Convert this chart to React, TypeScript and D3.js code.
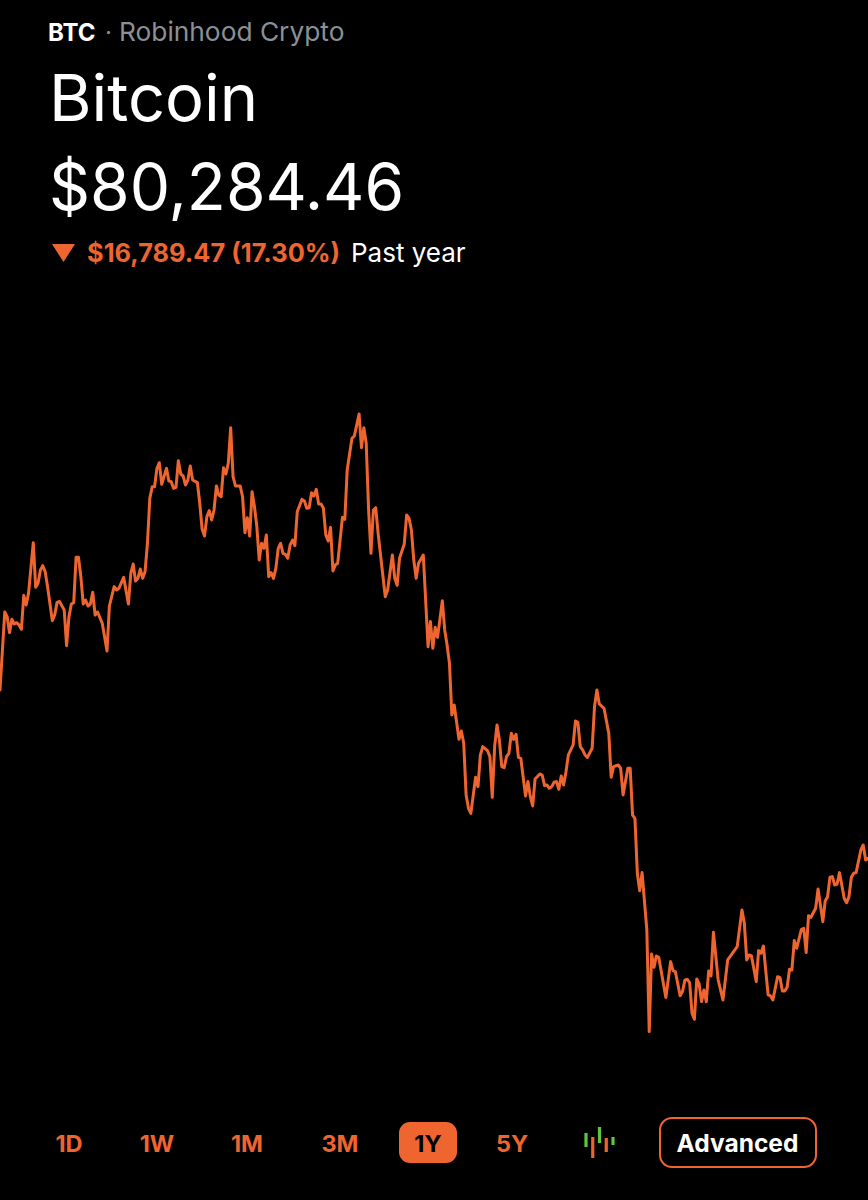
import * as d3 from 'd3'

const WIDTH = 868
const HEIGHT = 1200
const ORANGE = '#ef6530'
const FONT = 'Inter, sans-serif'

// day of the year-long window, only the days where the line turns
const days = [
  0, 2, 3, 4, 5, 6, 7, 8, 9, 10, 11, 12, 14, 15, 16, 17, 18, 19, 20, 22, 23, 24, 25, 27, 28, 29, 30, 31, 32, 33,
  34, 35, 36, 37, 38, 39, 40, 41, 43, 45, 46, 48, 49, 50, 52, 54, 55, 56, 57, 58, 59, 60, 61, 62, 63, 64, 65, 66, 67, 68,
  70, 71, 72, 73, 74, 75, 76, 77, 78, 79, 80, 81, 83, 84, 85, 86, 87, 88, 89, 90, 91, 92, 93, 94, 95, 96, 97, 98, 99, 101,
  102, 103, 104, 105, 106, 107, 108, 109, 110, 111, 112, 113, 114, 115, 116, 117, 118, 119, 120, 121, 122, 123, 124, 125, 127, 128, 129, 130, 131, 132,
  133, 134, 135, 136, 137, 138, 139, 140, 141, 142, 144, 145, 146, 148, 149, 151, 152, 153, 154, 155, 156, 157, 158, 159, 162, 163, 165, 166, 167, 168,
  170, 171, 172, 173, 174, 175, 176, 178, 180, 181, 182, 183, 184, 186, 187, 188, 189, 190, 191, 193, 194, 195, 196, 197, 198, 200, 201, 202, 203, 205,
  206, 207, 208, 209, 210, 211, 212, 213, 214, 215, 216, 217, 218, 219, 221, 222, 223, 224, 225, 227, 228, 229, 230, 231, 232, 233, 234, 235, 236, 237,
  238, 239, 241, 242, 243, 244, 245, 246, 247, 249, 250, 251, 252, 254, 256, 257, 258, 260, 261, 262, 264, 265, 266, 267, 268, 269, 270, 272, 273, 274,
  275, 276, 277, 280, 282, 283, 284, 286, 287, 288, 289, 290, 291, 292, 293, 294, 295, 296, 297, 298, 299, 300, 302, 304, 306, 310, 312, 313, 314, 315,
  316, 318, 319, 320, 321, 323, 324, 325, 327, 328, 329, 330, 331, 332, 333, 334, 335, 337, 338, 339, 340, 341, 343, 344, 346, 347, 348, 349, 350, 351,
  352, 353, 355, 356, 357, 358, 359, 360, 362, 363, 364, 365,
]

// BTC price in thousands of dollars
const prices = [
  97.07, 105.01, 104.53, 102.91, 104.26, 103.79, 103.92, 103.69, 103.25, 106.7, 105.72, 106.91, 112.06, 107.52, 107.93, 109.28, 109.72, 109.11, 107.59, 104.13, 104.7, 105.99, 106.09, 105.21, 101.58, 104.53, 105.82, 105.96, 110.57, 110.57,
  108.6, 105.82, 106.23, 105.62, 105.82, 107.01, 104.7, 105.01, 103.86, 101.04, 105.62, 107.59, 107.25, 107.42, 108.54, 105.82, 108.94, 109.89, 108.16, 108.43, 109.38, 108.43, 109.11, 112.0, 116.57, 117.76, 117.76, 119.63, 120.2, 118.0,
  119.63, 118.34, 118.27, 117.59, 117.69, 120.41, 119.05, 118.85, 117.93, 118.44, 119.86, 118.44, 118.17, 116.07, 113.42, 112.74, 114.71, 115.32, 114.37, 115.39, 117.83, 116.91, 116.74, 119.69, 119.05, 120.14, 123.76, 118.78, 117.83, 117.83,
  116.74, 113.08, 114.61, 112.74, 117.25, 115.73, 113.69, 110.3, 112.0, 111.49, 112.84, 108.6, 109.01, 108.43, 109.45, 111.49, 112.0, 110.98, 110.88, 110.47, 111.83, 112.33, 111.76, 115.22, 116.47, 116.3, 115.56, 115.62, 117.15, 116.81,
  117.49, 116.0, 116.0, 115.56, 112.84, 112.23, 113.62, 109.18, 109.79, 109.96, 114.64, 114.44, 119.46, 122.68, 122.92, 125.16, 121.73, 123.76, 122.17, 115.39, 110.98, 115.39, 115.62, 113.01, 106.57, 107.25, 110.81, 108.43, 107.72, 110.47,
  111.93, 114.88, 114.54, 113.35, 110.3, 108.43, 109.96, 110.81, 101.48, 104.03, 101.31, 103.45, 102.43, 106.16, 103.18, 101.65, 99.79, 94.53, 95.55, 92.05, 92.9, 91.65, 86.39, 85.03, 84.52, 88.19, 87.24, 90.46, 91.31, 90.9,
  90.29, 86.15, 91.31, 93.51, 91.98, 89.27, 89.17, 90.29, 90.63, 92.66, 92.05, 92.56, 90.22, 90.12, 86.29, 87.75, 86.22, 85.27, 88.02, 88.53, 88.42, 87.34, 87.41, 87.07, 87.24, 87.68, 87.75, 86.97, 88.32, 87.41,
  88.76, 90.46, 91.48, 93.92, 93.78, 91.31, 90.97, 90.46, 90.22, 91.14, 95.38, 97.07, 95.65, 95.21, 92.66, 88.19, 89.27, 89.44, 89.1, 86.39, 89.1, 89.1, 84.35, 84.01, 78.42, 76.65, 78.49, 72.65, 62.31, 70.21,
  68.85, 70.01, 69.87, 65.77, 69.43, 68.51, 68.41, 65.97, 66.38, 67.56, 67.63, 67.29, 64.17, 63.56, 67.67, 67.16, 65.36, 66.55, 65.36, 68.48, 67.97, 72.41, 67.56, 65.53, 69.6, 70.96, 74.69, 73.33, 69.6, 70.11,
  70.01, 67.4, 70.55, 70.28, 71.02, 66.04, 65.94, 65.53, 67.9, 67.8, 66.45, 66.45, 66.82, 68.65, 68.58, 71.57, 70.79, 72.72, 72.82, 70.35, 74.11, 73.94, 74.86, 76.82, 73.5, 75.6, 76.04, 78.01, 78.08, 77.23,
  77.33, 78.49, 75.87, 75.43, 76.04, 78.01, 78.42, 78.49, 80.79, 81.3, 79.77, 79.94,
]

const ranges = ['1D', '1W', '1M', '3M', '1Y', '5Y']
const rangeCenters = [69, 157, 247, 340, 428, 512]
const activeRange = '1Y'

// little candlestick glyph next to the range buttons
const candleLows = [1.56, 0, 2.13, 0.85, 1.85]
const candleHighs = [3.55, 2.98, 4.4, 2.84, 2.98]
const candleUp = [true, false, true, false, true]

export default function App() {
  const x = d3.scaleLinear().domain([0, 365]).range([0, WIDTH])
  const y = d3.scaleLinear().domain([60, 130]).range([1054.3, 366.4])
  const line = d3.line<number>().x(d => x(d)).y((_, i) => y(prices[i]))

  const candleX = d3.scalePoint<number>().domain(d3.range(candleLows.length)).range([586, 613])
  const candleY = d3.scaleLinear().domain([0, 4.4]).range([1158, 1127])

  return (
    <svg
      width={WIDTH}
      height={HEIGHT}
      viewBox={`0 0 ${WIDTH} ${HEIGHT}`}
      style={{ position: 'absolute', left: 0, top: 0, display: 'block', background: '#000' }}
      fontFamily={FONT}
    >
      <text x={48} y={40.5} fontSize={24} fontWeight={700} fill="#fff">BTC</text>
      <text x={105} y={40.5} fontSize={24} fill="#8b9096">·</text>
      <text x={119} y={40.5} fontSize={26.3} fill="#8b9096">Robinhood Crypto</text>

      <text x={49} y={121} fontSize={65} fill="#fff">Bitcoin</text>
      <text x={49} y={210} fontSize={64} fill="#fff">$80,284.46</text>

      <path d="M52,244H75L63.5,262Z" fill={ORANGE} />
      <text x={87} y={262} fontSize={25.4} fontWeight={700} fill={ORANGE}>$16,789.47 (17.30%)</text>
      <text x={351} y={262} fontSize={26} fill="#fff">Past year</text>

      <path
        d={line(days) ?? ''}
        fill="none"
        stroke={ORANGE}
        strokeWidth={3}
        strokeLinejoin="round"
        strokeLinecap="round"
      />

      <rect x={399} y={1122} width={58} height={41} rx={11} fill={ORANGE} />
      {ranges.map((r, i) => (
        <text
          key={r}
          x={rangeCenters[i]}
          y={1152}
          textAnchor="middle"
          fontSize={23.5}
          fontWeight={700}
          fill={r === activeRange ? '#000' : ORANGE}
        >
          {r}
        </text>
      ))}

      {candleLows.map((low, i) => (
        <line
          key={i}
          x1={candleX(i)}
          x2={candleX(i)}
          y1={candleY(low)}
          y2={candleY(candleHighs[i])}
          stroke={candleUp[i] ? '#5fc63f' : ORANGE}
          strokeWidth={3.2}
        />
      ))}

      <rect x={660} y={1118} width={156} height={49} rx={12} fill="none" stroke={ORANGE} strokeWidth={2} />
      <text x={737.5} y={1152} textAnchor="middle" fontSize={24.5} fontWeight={700} fill="#fff">Advanced</text>
    </svg>
  )
}
